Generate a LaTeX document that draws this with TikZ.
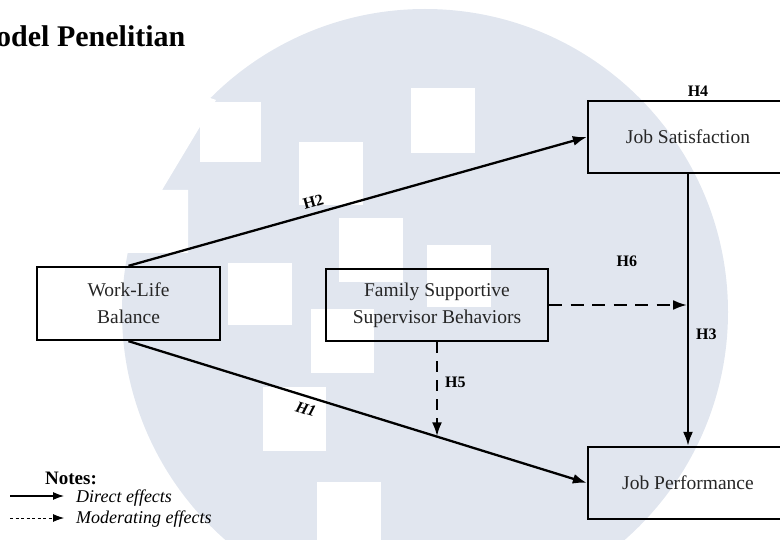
\documentclass[tikz,border=0pt]{standalone}
\usepackage{fontspec}
\setmainfont{Liberation Serif}
\usetikzlibrary{calc}
\usetikzlibrary{positioning}
\usetikzlibrary{arrows.meta}

\definecolor{wmark}{RGB}{225,230,239}

\tikzset{
  varbox/.style={draw, line width=2.3pt, align=center, text=black!85, inner sep=0pt,
    font=\fontsize{19.5}{27}\selectfont},
  hyp/.style={font=\fontsize{16}{18}\selectfont\bfseries, inner sep=3pt},
  effect/.style={line width=2.3pt, -{Latex[length=14pt,width=10pt]}},
  moderate/.style={effect, dash pattern=on 13pt off 8.5pt},
  legtext/.style={anchor=base west, inner sep=0pt, font=\fontsize{18}{20}\selectfont\itshape},
}

\begin{document}
\begin{tikzpicture}[x=1pt, y=-1pt]
\useasboundingbox (0,0) rectangle (780,540);
\clip (0,0) rectangle (780,540);

% watermark behind the model
\fill[wmark] (425,312) circle[radius=303pt];
\fill[white] (216,100) -- (162,190) -- (188,190) -- (188,253) -- (100,253) -- (100,60) -- cycle;
\fill[white] (200,102) rectangle ++(61,60);
\fill[white] (299,142) rectangle ++(64,63);
\fill[white] (411,88) rectangle ++(64,65);
\fill[white] (339,218) rectangle ++(64,64);
\fill[white] (427,245) rectangle ++(64,62);
\fill[white] (228,263) rectangle ++(64,62);
\fill[white] (311,309) rectangle ++(63,64);
\fill[white] (263,387) rectangle ++(63,64);
\fill[white] (317,482) rectangle ++(64,70);

\node[anchor=base west, inner sep=0pt, font=\fontsize{30}{30}\selectfont\bfseries] (title) at (-4,47) {odel Penelitian};

% variables
\node[varbox, minimum width=183pt, minimum height=73pt] (wlb) at (128.5,303.5) {Work-Life\\Balance};
\node[varbox, minimum width=222pt, minimum height=72pt] (fssb) at (437,305) {Family Supportive\\Supervisor Behaviors};
\node[varbox, minimum width=200pt, minimum height=72pt] (js) at (688,137) {Job Satisfaction};
\node[varbox, minimum width=200pt, minimum height=72pt] (jp) at (688,483) {Job Performance};

% direct effects
\draw[effect] (wlb.north) -- (js.west) node[hyp, pos=0.41, above=2pt, sloped] {H2};
\draw[effect] (wlb.south) -- (jp.west) node[hyp, pos=0.395, below=3pt, sloped, font=\fontsize{16}{18}\selectfont\bfseries\itshape] {H1};
\draw[effect] (js.south) -- (jp.north) node[hyp, pos=0.59, right=4pt] {H3};
\node[hyp, above=0pt of js.north, xshift=10pt] (h4) {H4};

% moderating effects
\coordinate (m6) at (js.south |- fssb.east);
\coordinate (m5) at ($(wlb.south)!0.671!(jp.west)$);
\draw[moderate, shorten >=1pt] (fssb.east) -- (m6) node[hyp, pos=0.56, above=34pt] {H6};
\draw[moderate, dash pattern=on 11pt off 8pt] (fssb.south) -- (fssb.south |- m5) node[hyp, pos=0.43, right=4pt] {H5};

% notes
\node[anchor=base west, inner sep=0pt, font=\fontsize{19}{20}\selectfont\bfseries] (notes) at (45,484) {Notes:};
\node[legtext] (direct) at (76,502) {Direct effects};
\node[legtext] (moder) at (76,523) {Moderating effects};
\coordinate (d0) at (10,496);
\coordinate (d1) at (10,518);
\draw[line width=1.2pt, -{Latex[length=11pt,width=8pt]}] (d0) -- ([xshift=-12pt]direct.west |- d0);
\draw[line width=0.8pt, dash pattern=on 3pt off 2.5pt, -{Latex[length=11pt,width=8pt]}] (d1) -- ([xshift=-12pt]moder.west |- d1);

\end{tikzpicture}
\end{document}
